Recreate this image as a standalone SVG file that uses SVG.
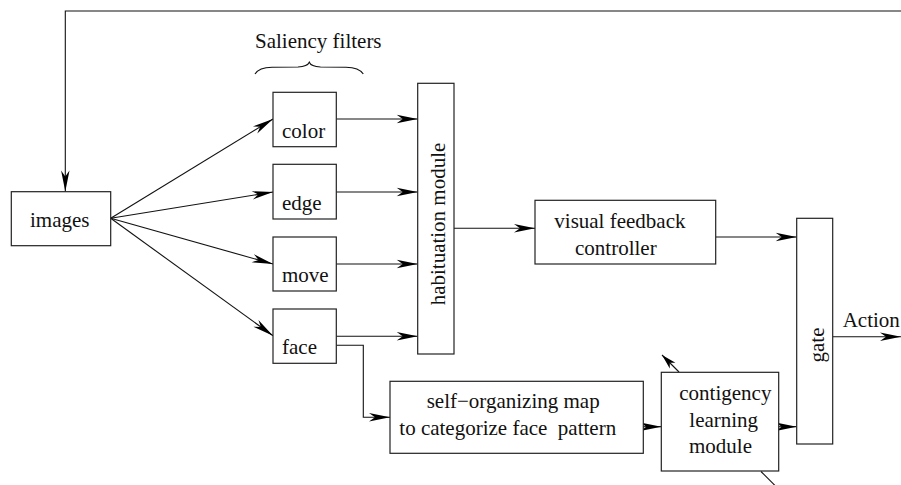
<svg xmlns="http://www.w3.org/2000/svg" width="901" height="485" viewBox="0 0 901 485">
  <style>
    .box { fill: #fff; stroke: #222; stroke-width: 1.2; }
    .wire { fill: none; stroke: #111; stroke-width: 1.1; }
    .lbl { font-size: 21px; fill: #111; white-space: pre; }
  </style>
  <defs>
    <marker id="head" markerUnits="userSpaceOnUse" markerWidth="24" markerHeight="12" viewBox="-22 -6 24 12" refX="0" refY="0" orient="auto" overflow="visible">
      <path d="M0,0 L-21,-4.2 L-15,0 L-21,4.2 Z" fill="#000"/>
    </marker>
    <marker id="headSmall" markerUnits="userSpaceOnUse" markerWidth="16" markerHeight="10" viewBox="-16 -5 16 10" refX="0" refY="0" orient="auto" overflow="visible">
      <path d="M0,0 L-15,-4 L-11,0 L-15,4 Z" fill="#000"/>
    </marker>
  </defs>

  <!-- connectors -->
  <g id="connectors">
    <!-- feedback loop back to images -->
    <path class="wire" d="M901,11 L65.3,11 L65.3,191.5" marker-end="url(#head)"/>
    <!-- images to saliency filters -->
    <line class="wire" x1="110.7" y1="218.3" x2="273" y2="119" marker-end="url(#head)"/>
    <line class="wire" x1="110.7" y1="218.3" x2="273" y2="192" marker-end="url(#head)"/>
    <line class="wire" x1="110.7" y1="218.3" x2="273" y2="264" marker-end="url(#head)"/>
    <line class="wire" x1="110.7" y1="218.3" x2="273" y2="335.7" marker-end="url(#head)"/>
    <!-- filters to habituation module -->
    <line class="wire" x1="336.3" y1="119" x2="417.7" y2="119" marker-end="url(#head)"/>
    <line class="wire" x1="336.3" y1="192" x2="417.7" y2="192" marker-end="url(#head)"/>
    <line class="wire" x1="336.3" y1="264" x2="417.7" y2="264" marker-end="url(#head)"/>
    <line class="wire" x1="336.3" y1="336.3" x2="417.7" y2="336.3" marker-end="url(#head)"/>
    <!-- face to self-organizing map -->
    <path class="wire" d="M336.3,345.3 L363.3,345.3 L363.3,417.3 L390,417.3" marker-end="url(#head)"/>
    <!-- habituation to visual feedback controller -->
    <line class="wire" x1="454" y1="228.3" x2="535" y2="228.3" marker-end="url(#head)"/>
    <!-- controller to gate -->
    <line class="wire" x1="715.7" y1="237" x2="796.7" y2="237" marker-end="url(#head)"/>
    <!-- map to contingency learning -->
    <line class="wire" x1="643.3" y1="426.7" x2="661.3" y2="426.7" marker-end="url(#head)"/>
    <!-- contingency learning to gate -->
    <line class="wire" x1="778.7" y1="426.7" x2="796.7" y2="426.7" marker-end="url(#head)"/>
    <!-- gate output -->
    <line class="wire" x1="832.7" y1="336.7" x2="901" y2="336.7" marker-end="url(#head)"/>
    <!-- short strokes at contingency module -->
    <line class="wire" x1="679" y1="372" x2="662" y2="355" marker-end="url(#headSmall)"/>
    <line class="wire" x1="761" y1="471.5" x2="775" y2="485.5"/>
  </g>

  <g font-family="'Liberation Serif', 'Times New Roman', 'DejaVu Serif', serif">
  <!-- brace over the saliency filters -->
  <g id="saliency-title">
    <text class="lbl" x="255" y="48">Saliency filters</text>
    <path class="wire" d="M255,74 Q259,67.5 272,67.3 L298,67 Q307.5,66.6 309.3,62.3 Q311,66.6 320.5,67 L346,67.3 Q359,67.5 363.3,74"/>
  </g>

  <g id="images">
    <rect class="box" x="11.3" y="191.7" width="99.4" height="54"/>
    <text class="lbl" x="30" y="227">images</text>
  </g>

  <g id="color">
    <rect class="box" x="273" y="92.3" width="63.3" height="54.4"/>
    <text class="lbl" x="282" y="137.5">color</text>
  </g>
  <g id="edge">
    <rect class="box" x="273" y="164.3" width="63.3" height="54.7"/>
    <text class="lbl" x="282" y="209.5">edge</text>
  </g>
  <g id="move">
    <rect class="box" x="273" y="237" width="63.3" height="54"/>
    <text class="lbl" x="282" y="281.5">move</text>
  </g>
  <g id="face">
    <rect class="box" x="273" y="309" width="63.3" height="54.3"/>
    <text class="lbl" x="282" y="353.5">face</text>
  </g>

  <g id="habituation">
    <rect class="box" x="417.7" y="83.3" width="36.3" height="270.7"/>
    <text class="lbl" transform="translate(445,224) rotate(-90)" text-anchor="middle">habituation module</text>
  </g>

  <g id="visual-feedback">
    <rect class="box" x="535" y="200.3" width="180.7" height="63.7"/>
    <text class="lbl" x="554.3" y="227.7">visual feedback</text>
    <text class="lbl" x="575" y="255">controller</text>
  </g>

  <g id="self-organizing-map">
    <rect class="box" x="390" y="381.3" width="253.3" height="72"/>
    <text class="lbl" x="426.7" y="408.3">self−organizing map</text>
    <text class="lbl" x="399.3" y="435">to categorize face  pattern</text>
  </g>

  <g id="contingency">
    <rect class="box" x="661.3" y="372.3" width="117.4" height="98.7"/>
    <text class="lbl" x="679.3" y="400">contigency</text>
    <text class="lbl" x="689.3" y="426.7">learning</text>
    <text class="lbl" x="689" y="453.3">module</text>
  </g>

  <g id="gate">
    <rect class="box" x="796.7" y="218.3" width="36" height="225.7"/>
    <text class="lbl" transform="translate(824,345) rotate(-90)" text-anchor="middle">gate</text>
  </g>

  <g id="action">
    <text class="lbl" x="842.7" y="327">Action</text>
  </g>
  </g>
</svg>
